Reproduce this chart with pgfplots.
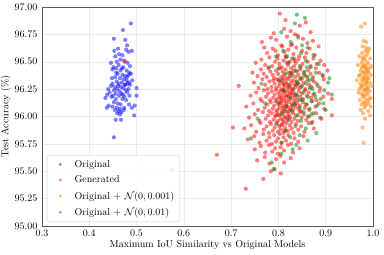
\documentclass[border=0pt]{standalone}
\usepackage{pgfplots}
\pgfplotsset{compat=1.18}
\begin{document}
\begin{tikzpicture}
\useasboundingbox (-42pt,-29pt) rectangle (342pt,226pt);
\begin{axis}[
  at={(0,0)}, anchor=south west,
  scale only axis, width=331pt, height=219pt,
  xmin=0.3, xmax=1.0, ymin=95, ymax=97,
  xtick={0.3,0.4,0.5,0.6,0.7,0.8,0.9,1.0},
  xticklabel={\pgfmathprintnumber[fixed,fixed zerofill,precision=1]{\tick}},
  ytick={95,95.25,95.5,95.75,96,96.25,96.5,96.75,97},
  yticklabel={\pgfmathprintnumber[fixed,fixed zerofill,precision=2]{\tick}},
  major tick length=0pt,
  grid=major,
  major grid style={black!8, line width=0.5pt},
  axis line style={black!65, line width=0.8pt},
  tick label style={font=\normalsize},
  xticklabel style={yshift=-1pt},
  yticklabel style={xshift=-1pt},
  xlabel={Maximum IoU Similarity vs Original Models},
  ylabel={Test Accuracy (\%)},
  xlabel style={yshift=3pt},
  ylabel style={yshift=-3pt},
  legend style={at={(0.015,0.018)}, anchor=south west, draw=black!20, rounded corners=2pt,
    fill=white, fill opacity=0.8, text opacity=1, font=\normalsize, row sep=3.2pt,
    inner xsep=3pt, inner ysep=3pt},
  legend cell align=left,
  legend image code/.code={\path (0pt,0pt) (22pt,0pt); \path[#1, mark size=1.6pt] plot[only marks] coordinates {(10pt,0pt)};},
  every axis plot/.append style={only marks, mark=*, mark size=2.1pt},
]
\addplot[color=blue, mark options={fill=blue, fill opacity=0.5, draw opacity=0}] coordinates {
(0.488,96.85)(0.471,96.79)(0.452,96.71)(0.476,96.70)(0.480,96.65)(0.461,96.62)(0.453,96.60)(0.478,96.61)(0.483,96.59)(0.490,96.60)
(0.455,96.55)(0.470,96.56)(0.466,96.52)(0.474,96.51)(0.446,96.49)(0.458,96.50)(0.481,96.49)(0.462,96.47)(0.451,96.45)(0.457,96.44)
(0.472,96.45)(0.449,96.43)(0.466,96.42)(0.479,96.42)(0.485,96.40)(0.460,96.39)(0.470,96.38)(0.476,96.37)(0.483,96.38)(0.488,96.39)
(0.455,96.36)(0.465,96.35)(0.473,96.34)(0.479,96.33)(0.491,96.33)(0.458,96.32)(0.469,96.31)(0.484,96.31)(0.449,96.30)(0.462,96.30)
(0.476,96.29)(0.481,96.30)(0.486,96.29)(0.446,96.28)(0.454,96.27)(0.467,96.27)(0.472,96.26)(0.440,96.25)(0.452,96.24)(0.459,96.25)
(0.464,96.23)(0.477,96.24)(0.500,96.26)(0.443,96.22)(0.456,96.21)(0.468,96.21)(0.480,96.22)(0.438,96.20)(0.450,96.19)(0.463,96.19)
(0.474,96.18)(0.485,96.19)(0.500,96.19)(0.434,96.17)(0.447,96.18)(0.456,96.16)(0.470,96.16)(0.478,96.15)(0.452,96.13)(0.460,96.12)
(0.466,96.11)(0.484,96.11)(0.441,96.10)(0.449,96.09)(0.458,96.08)(0.465,96.07)(0.474,96.08)(0.496,96.10)(0.437,96.08)(0.490,96.08)
(0.454,96.06)(0.462,96.05)(0.468,96.04)(0.473,96.06)(0.459,96.03)(0.465,96.02)(0.495,96.01)(0.456,95.97)(0.467,95.97)(0.452,95.81)
(0.448,96.35)(0.486,96.46)(0.463,96.57)(0.475,96.29)(0.457,96.40)(0.469,96.44)(0.480,96.36)(0.461,96.28)(0.471,96.20)(0.483,96.25)
};
\addlegendentry{Original}
\addplot[color=red, mark options={fill=red, fill opacity=0.5, draw opacity=0}] coordinates {
(0.803,96.94)(0.815,96.88)(0.858,96.86)
(0.812,96.80)(0.826,96.78)(0.790,96.76)(0.845,96.83)(0.868,96.77)(0.835,96.75)
(0.765,96.68)(0.795,96.70)(0.818,96.73)(0.829,96.66)(0.852,96.71)(0.861,96.67)(0.806,96.65)(0.841,96.74)(0.873,96.69)(0.784,96.72)
(0.776,96.58)(0.788,96.62)(0.799,96.56)(0.808,96.64)(0.813,96.59)(0.821,96.61)(0.832,96.57)(0.838,96.63)(0.844,96.55)(0.850,96.60)
(0.859,96.58)(0.866,96.62)(0.877,96.56)(0.885,96.64)(0.815,96.55)(0.826,96.65)(0.794,96.60)(0.770,96.63)
(0.752,96.49)(0.764,96.52)(0.772,96.47)(0.781,96.54)(0.787,96.46)(0.793,96.50)(0.798,96.53)(0.802,96.48)(0.807,96.45)(0.811,96.51)
(0.816,96.54)(0.820,96.47)(0.824,96.50)(0.829,96.53)(0.833,96.46)(0.837,96.49)(0.842,96.52)(0.847,96.45)(0.851,96.48)(0.856,96.54)
(0.862,96.50)(0.868,96.46)(0.874,96.53)(0.881,96.48)(0.889,96.51)(0.897,96.47)(0.818,96.49)(0.834,96.51)
(0.745,96.40)(0.756,96.37)(0.763,96.43)(0.769,96.39)(0.775,96.36)(0.779,96.44)(0.783,96.41)(0.788,96.38)(0.791,96.35)(0.795,96.42)
(0.799,96.39)(0.803,96.44)(0.806,96.36)(0.809,96.41)(0.812,96.38)(0.815,96.43)(0.818,96.35)(0.821,96.40)(0.824,96.37)(0.827,96.44)
(0.830,96.39)(0.833,96.42)(0.836,96.36)(0.839,96.41)(0.842,96.38)(0.846,96.43)(0.850,96.35)(0.854,96.40)(0.858,96.37)(0.863,96.42)
(0.868,96.39)(0.873,96.36)(0.879,96.44)(0.886,96.40)(0.894,96.37)(0.904,96.42)(0.826,96.40)(0.811,96.35)
(0.716,96.28)(0.748,96.31)(0.758,96.26)(0.766,96.34)(0.772,96.29)(0.777,96.25)(0.781,96.32)(0.785,96.27)(0.789,96.33)(0.792,96.30)
(0.795,96.26)(0.798,96.34)(0.801,96.28)(0.803,96.31)(0.806,96.25)(0.808,96.33)(0.811,96.29)(0.813,96.27)(0.815,96.32)(0.818,96.30)
(0.820,96.26)(0.822,96.34)(0.825,96.28)(0.827,96.31)(0.829,96.25)(0.831,96.33)(0.834,96.29)(0.836,96.27)(0.839,96.32)(0.841,96.30)
(0.844,96.26)(0.847,96.34)(0.850,96.28)(0.853,96.31)(0.857,96.25)(0.861,96.33)(0.865,96.29)(0.870,96.27)(0.875,96.32)(0.881,96.30)
(0.888,96.26)(0.896,96.34)(0.810,96.30)(0.823,96.27)(0.800,96.33)(0.838,96.29)
(0.741,96.19)(0.753,96.22)(0.762,96.16)(0.769,96.24)(0.774,96.18)(0.778,96.21)(0.782,96.15)(0.786,96.23)(0.789,96.17)(0.792,96.20)
(0.795,96.24)(0.797,96.16)(0.800,96.21)(0.802,96.18)(0.804,96.23)(0.806,96.15)(0.808,96.20)(0.810,96.24)(0.812,96.17)(0.814,96.22)
(0.816,96.19)(0.818,96.15)(0.820,96.23)(0.822,96.18)(0.824,96.21)(0.826,96.16)(0.828,96.24)(0.830,96.19)(0.832,96.22)(0.835,96.17)
(0.837,96.20)(0.840,96.15)(0.843,96.23)(0.846,96.18)(0.849,96.21)(0.852,96.16)(0.856,96.24)(0.860,96.19)(0.864,96.22)(0.869,96.17)
(0.874,96.20)(0.880,96.15)(0.887,96.23)(0.895,96.18)(0.905,96.21)(0.913,96.16)(0.811,96.24)(0.819,96.19)(0.827,96.21)(0.805,96.17)
(0.732,96.09)(0.747,96.12)(0.757,96.06)(0.765,96.14)(0.771,96.08)(0.776,96.11)(0.780,96.05)(0.784,96.13)(0.788,96.07)(0.791,96.10)
(0.794,96.14)(0.797,96.06)(0.800,96.11)(0.802,96.08)(0.805,96.13)(0.807,96.05)(0.809,96.10)(0.812,96.14)(0.814,96.07)(0.816,96.12)
(0.819,96.09)(0.821,96.05)(0.823,96.13)(0.826,96.08)(0.828,96.11)(0.831,96.06)(0.833,96.14)(0.836,96.09)(0.839,96.12)(0.842,96.07)
(0.845,96.10)(0.848,96.05)(0.852,96.13)(0.856,96.08)(0.860,96.11)(0.865,96.06)(0.871,96.14)(0.878,96.09)(0.886,96.12)(0.897,96.07)
(0.913,96.01)(0.817,96.10)(0.803,96.12)(0.825,96.06)(0.810,96.08)(0.834,96.11)
(0.704,95.90)(0.738,95.99)(0.750,96.02)(0.760,95.96)(0.767,96.04)(0.773,95.98)(0.778,96.01)(0.782,95.95)(0.786,96.03)(0.790,95.97)
(0.793,96.00)(0.796,96.04)(0.799,95.96)(0.802,96.01)(0.805,95.98)(0.808,96.03)(0.811,95.95)(0.813,96.00)(0.816,96.04)(0.819,95.97)
(0.822,96.02)(0.825,95.99)(0.828,95.95)(0.831,96.03)(0.834,95.98)(0.837,96.01)(0.841,95.96)(0.845,96.04)(0.849,95.99)(0.854,96.02)
(0.859,95.97)(0.865,96.00)(0.872,95.95)(0.880,96.03)(0.891,95.98)(0.800,96.02)(0.815,95.99)(0.821,96.00)(0.809,95.97)(0.795,96.01)
(0.728,95.89)(0.742,95.92)(0.753,95.86)(0.762,95.94)(0.769,95.88)(0.775,95.91)(0.780,95.85)(0.784,95.93)(0.788,95.87)(0.792,95.90)
(0.796,95.94)(0.799,95.86)(0.802,95.91)(0.805,95.88)(0.808,95.93)(0.811,95.85)(0.814,95.90)(0.817,95.94)(0.820,95.87)(0.824,95.92)
(0.828,95.89)(0.832,95.85)(0.837,95.93)(0.842,95.88)(0.848,95.91)(0.855,95.86)(0.864,95.94)(0.875,95.89)(0.806,95.92)(0.813,95.87)
(0.670,95.65)(0.735,95.79)(0.749,95.82)(0.760,95.76)(0.768,95.84)(0.775,95.78)(0.781,95.81)(0.786,95.75)(0.791,95.83)(0.795,95.77)
(0.799,95.80)(0.803,95.84)(0.807,95.76)(0.811,95.81)(0.816,95.78)(0.821,95.83)(0.827,95.75)(0.834,95.80)(0.842,95.77)(0.853,95.82)
(0.750,95.70)(0.763,95.73)(0.772,95.67)(0.780,95.74)(0.787,95.68)(0.793,95.71)(0.799,95.66)(0.805,95.72)(0.812,95.69)(0.820,95.74)
(0.831,95.67)(0.845,95.71)
(0.755,95.60)(0.771,95.63)(0.781,95.57)(0.795,95.61)(0.804,95.64)(0.812,95.58)(0.826,95.62)
(0.575,95.51)(0.768,95.43)(0.784,95.50)(0.805,95.48)(0.731,95.34)(0.792,95.52)(0.475,96.50)
};
\addlegendentry{Generated}
\addplot[color=orange, mark options={fill=orange, fill opacity=0.5, draw opacity=0}] coordinates {
(0.975,96.82)(0.983,96.85)(0.980,96.69)(0.986,96.68)(0.978,96.64)(0.992,96.62)(0.984,96.60)(0.988,96.57)(0.971,96.55)(0.979,96.54)
(0.994,96.53)(0.982,96.52)(0.987,96.50)(0.976,96.49)(0.990,96.48)(0.968,96.47)(0.984,96.46)(0.980,96.45)(0.993,96.44)(0.986,96.43)
(0.974,96.42)(0.989,96.41)(0.978,96.40)(0.983,96.39)(0.996,96.38)(0.970,96.37)(0.987,96.37)(0.981,96.36)(0.991,96.35)(0.976,96.34)
(0.985,96.33)(0.979,96.32)(0.994,96.31)(0.973,96.30)(0.988,96.30)(0.982,96.29)(0.977,96.28)(0.990,96.27)(0.985,96.26)(0.971,96.25)
(0.980,96.24)(0.993,96.23)(0.986,96.22)(0.975,96.21)(0.989,96.20)(0.982,96.19)(0.978,96.18)(0.995,96.17)(0.984,96.16)(0.972,96.15)
(0.988,96.14)(0.980,96.13)(0.991,96.12)(0.976,96.11)(0.985,96.10)(0.982,96.08)(0.974,96.06)(0.990,96.05)(0.979,96.03)(0.994,96.01)
(0.983,95.98)(0.978,95.90)(0.980,95.76)(0.966,96.33)(0.997,96.46)(0.969,96.22)(0.998,96.28)(0.984,96.55)(0.977,96.58)(0.991,96.40)
(0.981,96.47)(0.986,96.31)(0.973,96.38)(0.989,96.25)(0.979,96.20)(0.992,96.16)(0.983,96.12)(0.975,96.27)(0.987,96.44)(0.980,96.35)
(0.995,96.09)(0.978,96.52)(0.990,96.60)(0.985,96.63)(0.982,96.41)(0.976,96.45)(0.988,96.34)(0.984,96.24)
};
\addlegendentry{Original $+$ $\mathcal{N}(0, 0.001)$}
\addplot[color=black!50!green, mark options={fill=black!50!green, fill opacity=0.5, draw opacity=0}] coordinates {
(0.839,96.93)(0.806,96.77)(0.842,96.72)(0.826,96.68)(0.862,96.63)(0.810,96.60)(0.848,96.58)(0.874,96.56)(0.795,96.55)(0.833,96.53)
(0.858,96.51)(0.821,96.49)(0.885,96.48)(0.845,96.46)(0.868,96.45)(0.800,96.44)(0.837,96.42)(0.855,96.41)(0.879,96.40)(0.815,96.39)
(0.893,96.38)(0.828,96.37)(0.862,96.36)(0.846,96.35)(0.872,96.34)(0.804,96.33)(0.838,96.32)(0.905,96.31)(0.858,96.30)(0.820,96.29)
(0.883,96.28)(0.848,96.27)(0.866,96.26)(0.832,96.25)(0.897,96.24)(0.812,96.23)(0.853,96.22)(0.876,96.21)(0.913,96.20)(0.840,96.19)
(0.862,96.18)(0.825,96.17)(0.889,96.16)(0.850,96.15)(0.870,96.14)(0.798,96.13)(0.834,96.12)(0.858,96.11)(0.882,96.10)(0.817,96.09)
(0.845,96.08)(0.866,96.07)(0.900,96.06)(0.828,96.05)(0.853,96.04)(0.874,96.03)(0.807,96.02)(0.841,96.01)(0.862,96.00)(0.888,95.99)
(0.822,95.97)(0.848,95.96)(0.870,95.94)(0.796,95.93)(0.836,95.91)(0.858,95.89)(0.815,95.87)(0.880,95.85)(0.845,95.83)(0.825,95.81)
(0.742,95.80)(0.862,95.78)(0.806,95.76)(0.838,95.74)(0.786,95.58)(0.790,95.52)(0.806,95.66)(0.830,95.70)(0.756,95.98)(0.772,96.12)
(0.764,96.30)(0.780,96.45)(0.818,96.55)(0.850,96.65)(0.836,96.20)(0.842,96.30)(0.854,96.38)(0.830,96.10)(0.866,96.33)(0.872,96.25)
(0.845,96.15)(0.826,96.40)(0.878,96.18)(0.860,96.45)(0.812,96.05)(0.895,96.12)(0.908,96.35)(0.870,96.02)(0.835,96.85)(0.856,96.90)
};
\addlegendentry{Original $+$ $\mathcal{N}(0, 0.01)$}
\end{axis}
\end{tikzpicture}
\end{document}
